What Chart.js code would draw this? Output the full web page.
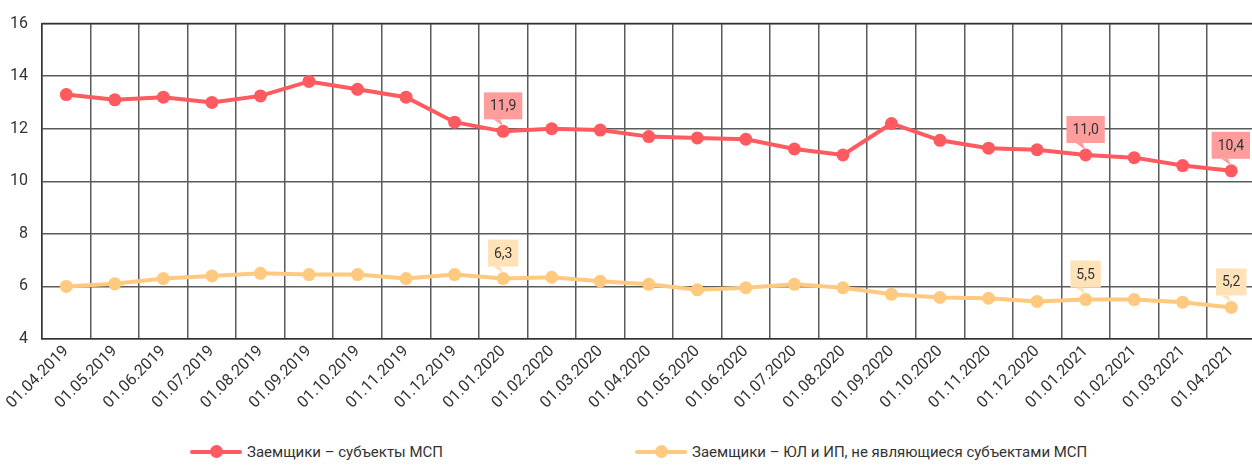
<!DOCTYPE html>
<html>
<head>
<meta charset="utf-8">
<script src="https://cdn.jsdelivr.net/npm/chart.js@4.4.1/dist/chart.umd.min.js"></script>
<style>
  html, body { margin: 0; padding: 0; background: #fff; overflow: hidden; width: 1252px; height: 465px; }
  .wrap { position: relative; width: 1262px; height: 432px; }
  #legend-container { position: absolute; top: 440px; left: 0; width: 1252px; height: 25px; font-family: 'Liberation Sans Narrow', 'Roboto', sans-serif; font-size: 15px; color: #333; }
  .legend-item { position: absolute; top: 3px; display: flex; align-items: center; }
  .legend-line { position: relative; width: 52px; height: 4px; border-radius: 2px; margin-right: 5px; }
  .legend-line span { position: absolute; left: 20px; top: -5px; width: 13px; height: 13px; border-radius: 50%; }
</style>
</head>
<body>
<div class="wrap"><canvas id="creditChart" width="1262" height="432"></canvas></div>
<div id="legend-container"></div>
<script>
const labels = ['01.04.2019', '01.05.2019', '01.06.2019', '01.07.2019', '01.08.2019', '01.09.2019', '01.10.2019',
  '01.11.2019', '01.12.2019', '01.01.2020', '01.02.2020', '01.03.2020', '01.04.2020', '01.05.2020', '01.06.2020',
  '01.07.2020', '01.08.2020', '01.09.2020', '01.10.2020', '01.11.2020', '01.12.2020', '01.01.2021', '01.02.2021',
  '01.03.2021', '01.04.2021'];
const smeValues = [13.3, 13.1, 13.2, 13.0, 13.25, 13.8, 13.5, 13.2, 12.25, 11.9, 12.0, 11.95, 11.7, 11.65, 11.6,
  11.23, 11.0, 12.2, 11.56, 11.26, 11.2, 11.0, 10.9, 10.6, 10.4];
const otherValues = [6.0, 6.1, 6.3, 6.4, 6.5, 6.45, 6.45, 6.3, 6.45, 6.3, 6.35, 6.2, 6.08, 5.87, 5.95,
  6.08, 5.95, 5.7, 5.58, 5.55, 5.43, 5.5, 5.5, 5.4, 5.2];
const seriesNames = ['Заемщики – субъекты МСП', 'Заемщики – ЮЛ и ИП, не являющиеся субъектами МСП'];
const calloutIndexes = [9, 21, 24];

const lineColors = ['#FF5A5F', '#FFC97F'];
const calloutColors = ['#FF9D9D', '#FFE2B8'];
const fontFamily = "'Liberation Sans Narrow', 'Roboto', sans-serif";

const calloutPlugin = {
    id: 'callouts',
    afterDatasetsDraw: function (chart) {
        const ctx = chart.ctx;
        ctx.save();
        ctx.font = '14px ' + fontFamily;
        ctx.textAlign = 'center';
        ctx.textBaseline = 'middle';
        chart.data.datasets.forEach((ds, di) => {
            const meta = chart.getDatasetMeta(di);
            calloutIndexes.forEach(i => {
                const pt = meta.data[i];
                const text = ds.data[i].toFixed(1).replace('.', ',');
                const w = ctx.measureText(text).width + 12;
                const h = 27;
                let cx = pt.x;
                if (cx + w / 2 > chart.width - 12) cx = chart.width - 12 - w / 2;
                const bottom = pt.y - 12;
                ctx.fillStyle = calloutColors[di];
                ctx.fillRect(cx - w / 2, bottom - h, w, h);
                ctx.beginPath();
                ctx.moveTo(pt.x - 10, bottom);
                ctx.lineTo(pt.x - 3, bottom);
                ctx.lineTo(pt.x, pt.y - 5);
                ctx.closePath();
                ctx.fill();
                ctx.fillStyle = '#333';
                ctx.fillText(text, cx, bottom - h / 2 + 1);
            });
        });
        ctx.restore();
    }
};

const ctx = document.getElementById('creditChart').getContext('2d');
const creditChart = new Chart(ctx, {
    type: 'line',
    data: {
        labels: labels,
        datasets: [smeValues, otherValues].map((values, i) => ({
            label: seriesNames[i],
            data: values,
            borderColor: lineColors[i],
            backgroundColor: lineColors[i],
            borderWidth: 4,
            pointRadius: 6.5,
            pointHoverRadius: 6.5,
            pointBorderWidth: 0,
            tension: 0
        }))
    },
    options: {
        responsive: false,
        animation: false,
        layout: { padding: { top: 16, right: 0, left: 0, bottom: 0 } },
        plugins: {
            legend: { display: false },
            title: { display: false },
            tooltip: { enabled: false }
        },
        scales: {
            x: {
                offset: true,
                grid: { offset: true, color: '#5a5a5a', lineWidth: 1.5, drawTicks: false },
                border: { color: '#333', width: 1.5 },
                ticks: {
                    maxRotation: 45, minRotation: 45, autoSkip: false, padding: 3,
                    color: '#333', font: { family: fontFamily, size: 16 }
                },
                afterFit: function (scale) { scale.height = 93; }
            },
            y: {
                min: 4, max: 16,
                ticks: { stepSize: 2, color: '#333', padding: 14, font: { family: fontFamily, size: 16 } },
                grid: { color: '#5a5a5a', lineWidth: 1.5, drawTicks: false },
                border: { color: '#333', width: 1.5 },
                afterFit: function (scale) { scale.width = 42; }
            }
        }
    },
    plugins: [calloutPlugin, {
        id: 'topBorder',
        afterDraw: function (chart) {
            const a = chart.chartArea;
            const c = chart.ctx;
            c.save();
            c.strokeStyle = '#333';
            c.lineWidth = 1.5;
            c.beginPath();
            c.moveTo(a.left, a.top);
            c.lineTo(a.right, a.top);
            c.stroke();
            c.restore();
        }
    }]
});

const legendLefts = [190, 635];
const legendContainer = document.getElementById('legend-container');
legendContainer.innerHTML = creditChart.data.datasets.map((ds, index) => `
    <div class="legend-item" style="left:${legendLefts[index]}px">
      <span class="legend-line" style="background-color:${ds.borderColor}"><span style="background-color:${ds.borderColor}"></span></span>
      <span class="legend-label">${ds.label}</span>
    </div>
`).join('');
</script>
</body>
</html>
